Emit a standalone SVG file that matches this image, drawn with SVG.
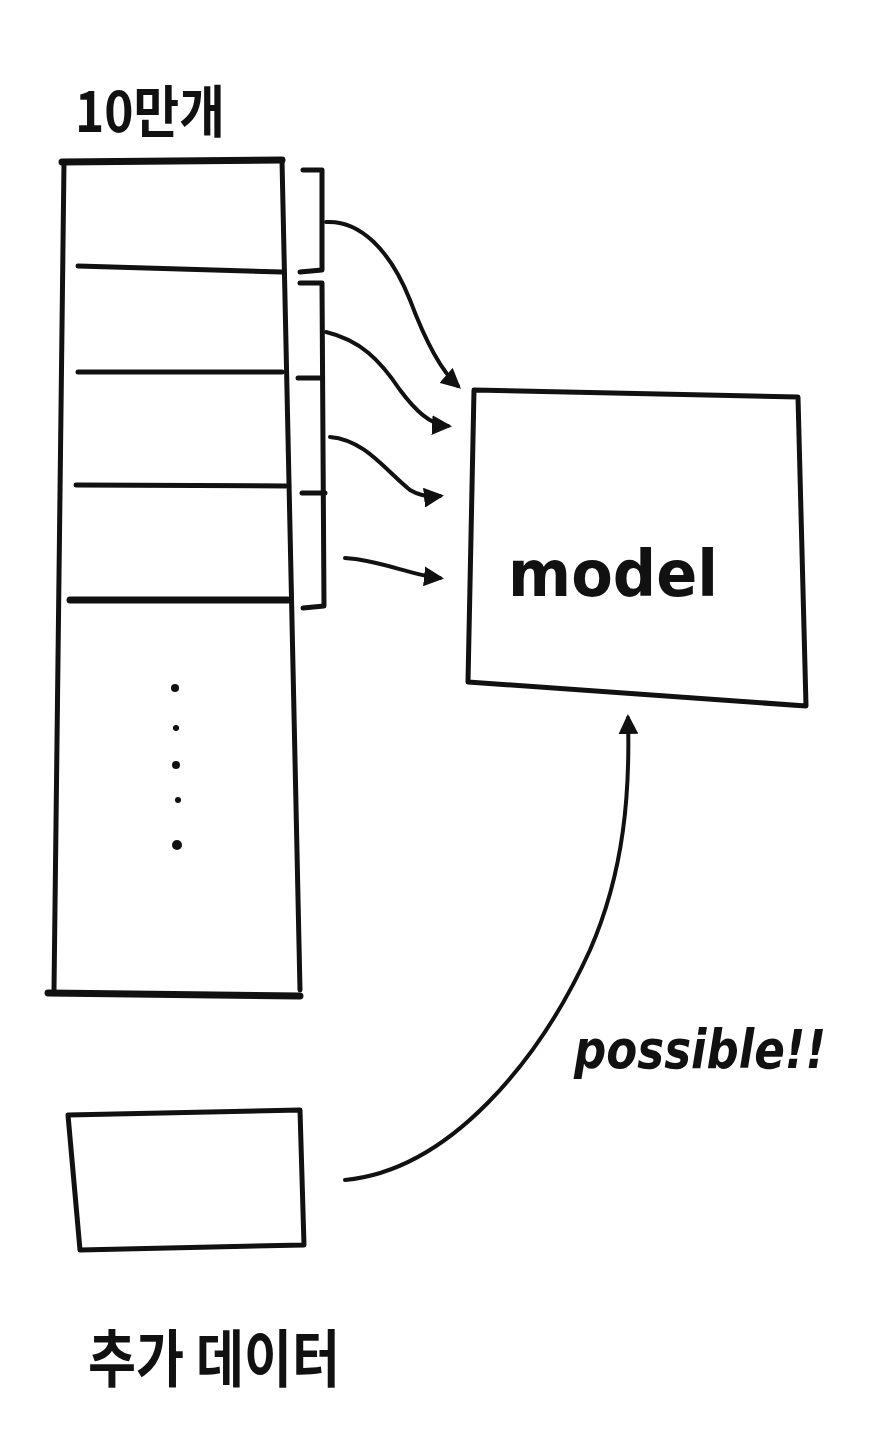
<svg xmlns="http://www.w3.org/2000/svg" width="894" height="1440" viewBox="0 0 894 1440">
<defs>
<style>
.s{fill:none;stroke:#111;stroke-width:5;stroke-linecap:round;stroke-linejoin:round}
.t{stroke-width:7}
.c{fill:none;stroke:#111;stroke-width:4;stroke-linecap:round}
.kr{font-family:"Noto Sans CJK KR","Noto Sans",sans-serif;fill:#111;font-weight:bold}
.en{font-family:"DejaVu Sans","Liberation Sans",sans-serif;fill:#111;font-weight:bold}
</style>
<marker id="ah" viewBox="0 0 10 10" refX="8" refY="5" markerWidth="5" markerHeight="5" orient="auto" markerUnits="strokeWidth">
<path d="M0,0 L10,5 L0,10 z" fill="#111"/>
</marker>
</defs>
<rect width="894" height="1440" fill="#fff"/>
<g id="label-top"><text class="kr" x="75" y="132" font-size="56" textLength="150" lengthAdjust="spacingAndGlyphs">10만개</text></g>
<g id="data-column">
<path class="s t" d="M62,162 L282,160"/>
<path class="s" d="M64,162 L54,990"/>
<path class="s" d="M282,160 L300,990"/>
<path class="s" d="M78,266 L282,272"/>
<path class="s" d="M78,372 L282,372"/>
<path class="s" d="M76,485 L286,486"/>
<path class="s t" d="M70,600 L288,600"/>
<path class="s t" d="M48,993 L300,996"/>
<g fill="#111"><circle cx="175" cy="688" r="4"/><circle cx="176" cy="728" r="3"/><circle cx="176" cy="765" r="4"/><circle cx="178" cy="800" r="3"/><circle cx="177" cy="845" r="5"/></g>
</g>
<g id="brackets">
<path class="s" d="M303,170 L322,170 L322,270 L300,272"/>
<path class="s" d="M300,283 L322,283 L324,606 L303,608"/>
<path class="s" d="M298,378 L322,378"/>
<path class="s" d="M302,493 L325,493"/>
</g>
<g id="model"><path class="s" d="M474,390 L798,397 L806,706 L468,682 Z"/>
<text class="en" x="508" y="596" font-size="64" textLength="210" lengthAdjust="spacingAndGlyphs">model</text></g>
<g id="extra-box"><path class="s" d="M68,1115 L300,1110 L304,1245 L80,1250 Z"/></g>
<g id="label-bottom"><text class="kr" x="88" y="1382" font-size="62" textLength="252" lengthAdjust="spacingAndGlyphs">추가 데이터</text></g>
<g id="label-possible"><text class="en" x="574" y="1068" font-size="54" font-style="italic" textLength="252" lengthAdjust="spacingAndGlyphs">possible!!</text></g>
<g id="connectors">
<path class="c" d="M326,222 C360,220 390,250 410,300 C425,340 440,370 458,386" marker-end="url(#ah)"/>
<path class="c" d="M326,332 C360,340 380,360 400,390 C415,410 430,425 448,426" marker-end="url(#ah)"/>
<path class="c" d="M330,437 C365,440 385,470 410,490 C420,496 430,497 440,496" marker-end="url(#ah)"/>
<path class="c" d="M345,558 C380,560 410,575 440,578" marker-end="url(#ah)"/>
<path class="c" d="M345,1180 C450,1170 540,1060 590,950 C625,870 630,790 628,718" marker-end="url(#ah)"/>
</g>
</svg>
